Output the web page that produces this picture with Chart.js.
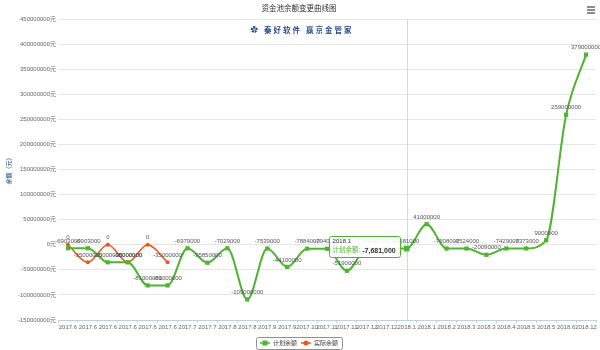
<!DOCTYPE html>
<html>
<head>
<meta charset="utf-8">
<script src="https://cdn.jsdelivr.net/npm/chart.js@4.4.1/dist/chart.umd.min.js"></script>
<style>
  html, body { margin: 0; padding: 0; background: #fff; }
  #wrap { width: 600px; height: 350px; position: relative; }
</style>
</head>
<body>
<div id="wrap"><canvas id="pool-chart"></canvas></div>
<script>
// x axis categories
const months = [
  "2017.6", "2017.6", "2017.6", "2017.6", "2017.6", "2017.6",
  "2017.7", "2017.7", "2017.8", "2017.8", "2017.9", "2017.9",
  "2017.10", "2017.11", "2017.11", "2017.12", "2017.12",
  "2018.1", "2018.1", "2018.2", "2018.3", "2018.3", "2018.4",
  "2018.5", "2018.5", "2018.6", "2018.12"
];
// 计划余额 (planned balance)
const planBalance = [
  -6903000, -6903000, -35000000, -35000000, -81000000, -81000000,
  -6979000, -35850000, -7029000, -109000000, -7539000, -44100000,
  -7884000, -7940000, -51900000, -7750000, -7700000,
  -7681000, 41000000, -7608000, -7524000, -20090000, -7429000,
  -7373000, 9000000, 259000000, 379000000
];
// 实际余额 (actual balance), only the first months
const actualBalance = [
  0, -35000000, 0, -35000000, 0, -35000000,
  null, null, null, null, null, null, null, null, null, null, null,
  null, null, null, null, null, null, null, null, null, null
];
// y axis range
const yMin = -150000000;
const yMax = 450000000;
const yStep = 50000000;

const tipIndex = 17; // point shown with the tooltip
const FONT = '"Liberation Sans", "Noto Sans CJK SC", sans-serif';
const GREEN = "#50B432";
const ORANGE = "#ED561B";

function legendSymbol(color, square) {
  const cv = document.createElement("canvas");
  cv.width = 10; cv.height = 6;
  const g = cv.getContext("2d");
  g.strokeStyle = color; g.lineWidth = 1.5;
  g.beginPath(); g.moveTo(0, 3); g.lineTo(10, 3); g.stroke();
  g.fillStyle = color;
  if (square) { g.fillRect(2.5, 0.5, 5, 5); }
  else { g.beginPath(); g.arc(5, 3, 2.5, 0, Math.PI * 2); g.fill(); }
  return cv;
}

function thousands(v) {
  return v.toLocaleString("en-US");
}

// labels above points
const valueLabels = {
  id: "valueLabels",
  afterDatasetsDraw(chart) {
    const c = chart.ctx;
    c.save();
    c.font = "6px " + FONT;
    c.fillStyle = "#555";
    c.textAlign = "center";
    c.textBaseline = "bottom";
    chart.data.datasets.forEach((ds, i) => {
      chart.getDatasetMeta(i).data.forEach((pt, j) => {
        const v = ds.data[j];
        if (v === null || v === undefined) return;
        c.fillText(String(v), pt.x, pt.y - 4);
      });
    });
    c.restore();
  }
};

// crosshair, watermark, tooltip, legend frame, menu icon
const extras = {
  id: "extras",
  beforeDatasetsDraw(chart) {
    const c = chart.ctx;
    const a = chart.chartArea;
    const pt = chart.getDatasetMeta(0).data[tipIndex];
    c.save();
    c.strokeStyle = "#d8d8d8";
    c.lineWidth = 1;
    c.beginPath();
    c.moveTo(Math.round(pt.x) + 0.5, a.top);
    c.lineTo(Math.round(pt.x) + 0.5, a.bottom);
    c.stroke();
    // watermark
    c.font = "bold 7.5px " + FONT;
    c.fillStyle = "#2a4a8c";
    c.textAlign = "center";
    c.textBaseline = "middle";
    c.letterSpacing = "2px";
    c.fillText("✿ 秦好软件 赢京金管家", chart.width / 2 + 2, a.top + 12);
    c.restore();
  },
  afterDraw(chart) {
    const c = chart.ctx;
    const pt = chart.getDatasetMeta(0).data[tipIndex];
    c.save();
    // tooltip box
    const title = months[tipIndex];
    const lab = "计划余额: ";
    const val = thousands(planBalance[tipIndex]);
    c.font = "6px " + FONT;
    const tw = c.measureText(title).width;
    c.font = "6.5px " + FONT;
    const lw = c.measureText(lab).width;
    c.font = "bold 7px " + FONT;
    const vw = c.measureText(val).width;
    const w = Math.max(tw, lw + vw) + 8;
    const h = 21;
    const x = pt.x - 7 - w;
    const y = pt.y - 13;
    c.fillStyle = "rgba(255,255,255,0.9)";
    c.strokeStyle = GREEN;
    c.lineWidth = 1;
    c.beginPath();
    c.roundRect(Math.round(x) + 0.5, Math.round(y) + 0.5, Math.round(w), h, 2);
    c.fill();
    c.stroke();
    c.textBaseline = "middle";
    c.textAlign = "left";
    c.fillStyle = "#333";
    c.font = "6px " + FONT;
    c.fillText(title, x + 4, y + 6);
    c.fillStyle = GREEN;
    c.font = "6.5px " + FONT;
    c.fillText(lab, x + 4, y + 15);
    c.fillStyle = "#333";
    c.font = "bold 7px " + FONT;
    c.fillText(val, x + 4 + lw, y + 15);
    // legend frame
    const boxes = chart.legend.legendHitBoxes;
    if (boxes && boxes.length) {
      const l = boxes[0].left - 4;
      const r = boxes[boxes.length - 1].left + boxes[boxes.length - 1].width + 4;
      const t = boxes[0].top - 3;
      c.strokeStyle = "#909090";
      c.lineWidth = 1;
      c.beginPath();
      c.roundRect(Math.round(l) + 0.5, Math.round(t) + 0.5, Math.round(r - l), 12, 2);
      c.stroke();
    }
    // menu icon
    c.strokeStyle = "#666";
    c.lineWidth = 1.5;
    for (let k = 0; k < 3; k++) {
      c.beginPath();
      c.moveTo(chart.width - 13, 7 + k * 3);
      c.lineTo(chart.width - 5, 7 + k * 3);
      c.stroke();
    }
    c.restore();
  }
};

const ctx = document.getElementById("pool-chart").getContext("2d");
const chart = new Chart(ctx, {
  type: "line",
  data: {
    labels: months,
    datasets: [
      {
        label: "计划余额",
        data: planBalance,
        borderColor: GREEN,
        backgroundColor: GREEN,
        borderWidth: 2,
        pointStyle: "rect",
        pointRadius: (c) => (c.index === tipIndex ? 4 : 3),
        pointBorderWidth: 0,
        cubicInterpolationMode: "monotone",
        fill: false
      },
      {
        label: "实际余额",
        data: actualBalance,
        borderColor: ORANGE,
        backgroundColor: ORANGE,
        borderWidth: 1.5,
        pointStyle: "circle",
        pointRadius: 2,
        pointBorderWidth: 0,
        cubicInterpolationMode: "monotone",
        fill: false
      }
    ]
  },
  options: {
    responsive: true,
    maintainAspectRatio: false,
    animation: false,
    events: [],
    layout: { padding: { left: 0, right: 2, top: 0, bottom: -6 } },
    scales: {
      x: {
        offset: true,
        afterFit: (s) => { s.height = 16; },
        grid: { drawOnChartArea: false, offset: true, tickLength: 3, color: "#C0D0E0" },
        border: { color: "#C0D0E0" },
        ticks: {
          autoSkip: false, maxRotation: 0, minRotation: 0, padding: 1,
          color: "#666", font: { size: 6, family: FONT }
        }
      },
      y: {
        min: yMin,
        max: yMax,
        afterFit: (s) => { s.width = 58; },
        grid: { color: "#e6e6e6", drawTicks: false },
        border: { display: false },
        ticks: {
          stepSize: yStep, padding: 2, color: "#666",
          font: { size: 6, family: FONT },
          callback: (v) => v + "元"
        },
        title: {
          display: true, text: "余额（元）", color: "#4d759e",
          font: { size: 6, weight: "bold", family: FONT },
          padding: { top: 6, bottom: 0 }
        }
      }
    },
    plugins: {
      title: {
        display: true,
        text: "资金池余额变更曲线图",
        color: "#333",
        font: { size: 7.5, weight: "normal", family: FONT },
        padding: { top: 4, bottom: 6 }
      },
      legend: {
        position: "bottom",
        labels: {
          usePointStyle: true,
          pointStyleWidth: 10,
          padding: 4,
          color: "#333",
          font: { size: 6, family: FONT },
          generateLabels: (c) =>
            Chart.defaults.plugins.legend.labels.generateLabels(c).map((it, i) => {
              it.pointStyle = legendSymbol(i === 0 ? GREEN : ORANGE, i === 0);
              return it;
            })
        }
      },
      tooltip: { enabled: false }
    }
  },
  plugins: [valueLabels, extras]
});
</script>
</body>
</html>
